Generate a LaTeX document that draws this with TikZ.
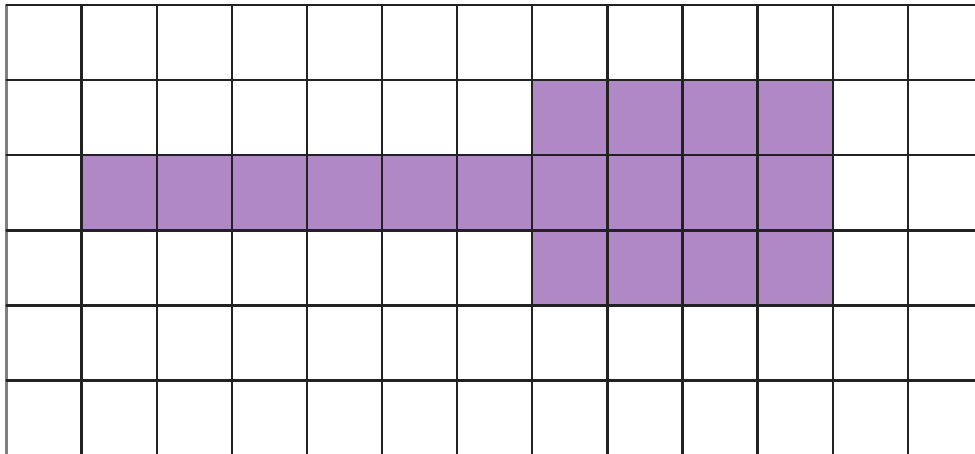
\documentclass[tikz,border=0pt]{standalone}
\usepackage{tikz}
\definecolor{CellPurple}{HTML}{B088C6}
\definecolor{GridBlack}{HTML}{222222}
\begin{document}
\begin{tikzpicture}[line cap=round,line join=round,gridline/.style={GridBlack,line width=0.9pt}]
  \useasboundingbox (-0.087,0.022) rectangle (12.895,6.067);
  \clip (-0.087,0.022) rectangle (12.895,6.067);
  \fill[CellPurple] (1,3) rectangle (11,4);
  \fill[CellPurple] (7,2) rectangle (11,5);
  \foreach \x in {1,...,12}{\draw[gridline] (\x,6)--(\x,-0.5);}
  \draw[gridline,gray] (0,6)--(0,-0.5);
  \foreach \y in {1,...,6}{\draw[gridline] (0,\y)--(13.5,\y);}
\end{tikzpicture}
\end{document}
